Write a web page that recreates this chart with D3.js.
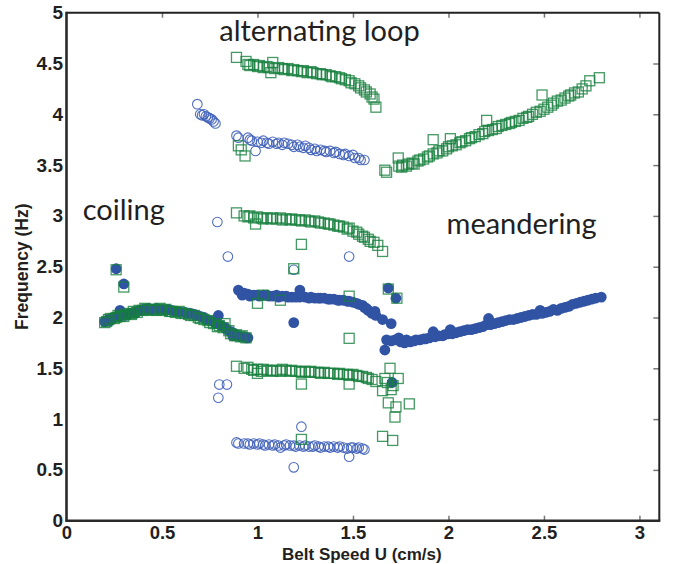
<!DOCTYPE html>
<html><head><meta charset="utf-8">
<script src="https://cdn.jsdelivr.net/npm/d3@7"></script>
<style>html,body{margin:0;padding:0;background:#fff;}svg{display:block;}</style>
</head><body>
<svg id="chart" width="680" height="564"></svg>
<script>
// ---- data ----
const xTicks = [0, 0.5, 1, 1.5, 2, 2.5, 3];
const xTickLabels = ["0", "0.5", "1", "1.5", "2", "2.5", "3"];
const yTicks = [0, 0.5, 1, 1.5, 2, 2.5, 3, 3.5, 4, 4.5, 5];
const yTickLabels = ["0", "0.5", "1", "1.5", "2", "2.5", "3", "3.5", "4", "4.5", "5"];
const xLabel = "Belt Speed U (cm/s)";
const yLabel = "Frequency (Hz)";
const regimeLabels = ["alternating loop", "coiling", "meandering"];
const regimeAnchors = [[0.80, 4.72], [0.085, 2.96], [1.99, 2.82]];

// filled blue circles
const filledCircles = [
[0.20,1.96],[0.21,1.97],[0.22,1.98],[0.23,1.97],[0.24,1.99],[0.25,2.00],[0.27,2.01],[0.28,2.07],[0.29,2.02],[0.31,2.02],[0.32,2.03],[0.33,2.04],[0.35,2.05],[0.36,2.04],[0.37,2.06],[0.39,2.07],[0.40,2.08],[0.42,2.08],[0.43,2.09],[0.45,2.08],[0.47,2.09],[0.48,2.08],[0.50,2.08],[0.52,2.07],[0.53,2.08],[0.55,2.07],[0.57,2.06],[0.58,2.06],[0.60,2.05],[0.62,2.05],[0.63,2.04],[0.65,2.04],[0.67,2.03],[0.68,2.02],[0.70,2.01],[0.72,2.00],[0.73,1.98],[0.75,1.97],[0.77,1.96],[0.78,1.94],[0.795,2.02],[0.81,1.92],[0.83,1.90],[0.84,1.88],[0.86,1.86],[0.87,1.82],[0.88,1.84],[0.90,1.82],[0.91,1.81],[0.93,1.81],[0.94,1.80],[0.95,1.80],
[0.26,2.48],[0.30,2.33],
[0.90,2.27],[0.92,2.22],[0.93,2.24],[0.95,2.23],[0.96,2.21],[0.98,2.22],[1.00,2.22],[1.01,2.21],[1.03,2.22],[1.05,2.22],[1.06,2.21],[1.08,2.21],[1.10,2.22],[1.11,2.20],[1.13,2.21],[1.15,2.21],[1.16,2.20],[1.18,2.20],[1.20,2.20],[1.22,2.20],[1.222,2.27],[1.25,2.20],[1.27,2.19],[1.28,2.20],[1.30,2.19],[1.32,2.19],[1.33,2.19],[1.35,2.19],[1.37,2.18],[1.38,2.18],[1.40,2.18],[1.42,2.17],[1.43,2.17],[1.45,2.17],[1.47,2.16],[1.48,2.16],[1.50,2.15],[1.52,2.14],[1.53,2.13],[1.55,2.12],[1.56,2.10],[1.57,2.09],[1.58,2.07],[1.60,2.04],[1.615,2.06],[1.62,2.02],[1.655,1.98],[1.70,1.94],
[1.19,1.95],[1.685,2.29],[1.725,2.19],[1.705,1.36],
[1.667,1.68],[1.676,1.78],[1.70,1.77],[1.72,1.78],[1.74,1.80],[1.75,1.76],[1.77,1.75],[1.78,1.78],[1.80,1.76],[1.82,1.77],[1.83,1.78],[1.85,1.78],[1.87,1.79],[1.88,1.79],[1.90,1.80],[1.92,1.86],[1.93,1.81],[1.95,1.82],[1.97,1.82],[1.98,1.83],[2.00,1.84],[2.01,1.88],[2.02,1.84],[2.04,1.85],[2.06,1.86],[2.08,1.87],[2.10,1.88],[2.12,1.88],[2.14,1.89],[2.16,1.90],[2.18,1.91],[2.20,1.93],[2.21,1.99],[2.22,1.93],[2.24,1.94],[2.26,1.95],[2.28,1.96],[2.30,1.97],[2.32,1.98],[2.34,1.98],[2.36,1.99],[2.38,2.00],[2.40,2.01],[2.42,2.02],[2.44,2.03],[2.46,2.03],[2.48,2.07],[2.49,2.04],[2.51,2.05],[2.53,2.06],[2.55,2.08],[2.57,2.07],[2.59,2.09],[2.61,2.10],[2.63,2.11],[2.65,2.13],[2.67,2.14],[2.69,2.15],[2.71,2.16],[2.73,2.17],[2.75,2.18],[2.77,2.19],[2.80,2.20]
];

// open blue circles
const openCircles = [
[0.685,4.10],[0.70,4.00],[0.71,3.99],[0.72,4.00],[0.73,3.98],[0.74,3.97],[0.75,3.96],[0.76,3.95],[0.77,3.93],[0.78,3.91],
[0.89,3.79],[0.90,3.77],[0.95,3.77],[0.96,3.75],[0.97,3.74],[0.99,3.64],[1.00,3.73],[1.02,3.72],[1.03,3.74],[1.05,3.72],[1.06,3.71],[1.08,3.73],[1.10,3.71],[1.11,3.72],[1.13,3.70],[1.14,3.72],[1.16,3.71],[1.18,3.70],[1.19,3.68],[1.21,3.70],[1.22,3.68],[1.24,3.67],[1.25,3.69],[1.27,3.67],[1.28,3.65],[1.30,3.66],[1.31,3.64],[1.33,3.65],[1.35,3.64],[1.36,3.63],[1.38,3.64],[1.40,3.62],[1.41,3.63],[1.43,3.61],[1.45,3.60],[1.46,3.61],[1.48,3.59],[1.50,3.60],[1.51,3.57],[1.53,3.57],[1.54,3.55],[1.56,3.55],
[0.89,0.77],[0.90,0.76],[0.93,0.76],[0.95,0.76],[0.96,0.75],[0.98,0.76],[1.00,0.75],[1.01,0.76],[1.03,0.75],[1.04,0.74],[1.06,0.75],[1.08,0.74],[1.09,0.75],[1.11,0.74],[1.12,0.72],[1.14,0.74],[1.15,0.75],[1.17,0.74],[1.19,0.74],[1.20,0.73],[1.22,0.74],[1.24,0.73],[1.25,0.74],[1.27,0.73],[1.29,0.73],[1.30,0.74],[1.32,0.73],[1.33,0.72],[1.35,0.73],[1.37,0.73],[1.38,0.72],[1.40,0.73],[1.42,0.72],[1.43,0.73],[1.45,0.72],[1.47,0.71],[1.49,0.72],[1.50,0.72],[1.52,0.71],[1.53,0.72],[1.55,0.71],[1.56,0.70],
[1.19,0.525],[1.23,0.925],[1.48,0.63],[0.79,2.94],[0.845,2.60],[1.48,2.60],[0.795,1.21],[0.80,1.34],[0.84,1.34],[1.19,2.47]
];

// open green squares
const openSquares = [
[0.20,1.95],[0.21,1.96],[0.22,1.98],[0.23,1.99],[0.25,1.99],[0.26,2.00],[0.27,2.02],[0.28,2.01],[0.30,2.01],[0.31,2.03],[0.33,2.04],[0.34,2.03],[0.35,2.06],[0.37,2.05],[0.38,2.07],[0.40,2.07],[0.41,2.09],[0.43,2.08],[0.44,2.07],[0.46,2.08],[0.47,2.07],[0.49,2.09],[0.50,2.07],[0.52,2.08],[0.54,2.06],[0.55,2.06],[0.57,2.05],[0.59,2.06],[0.60,2.04],[0.62,2.04],[0.64,2.03],[0.65,2.02],[0.67,2.02],[0.69,2.00],[0.70,1.99],[0.72,1.98],[0.74,1.97],[0.75,1.95],[0.77,1.94],[0.79,1.91],[0.80,1.92],[0.82,1.90],[0.83,1.94],[0.85,1.87],[0.86,1.84],[0.88,1.82],[0.89,1.83],[0.91,1.81],[0.92,1.82],[0.94,1.80],
[0.26,2.47],[0.30,2.30],
[0.89,4.56],[0.94,4.52],[0.95,4.49],[0.96,4.48],[0.98,4.49],[1.00,4.47],[1.01,4.48],[1.03,4.46],[1.05,4.47],[1.06,4.46],[1.07,4.41],[1.08,4.51],[1.09,4.45],[1.11,4.46],[1.13,4.45],[1.14,4.44],[1.16,4.45],[1.18,4.43],[1.19,4.44],[1.21,4.43],[1.23,4.42],[1.24,4.43],[1.26,4.41],[1.28,4.42],[1.29,4.41],[1.31,4.40],[1.33,4.40],[1.34,4.39],[1.36,4.39],[1.38,4.38],[1.39,4.37],[1.41,4.37],[1.43,4.36],[1.44,4.35],[1.46,4.34],[1.48,4.33],[1.49,4.31],[1.51,4.30],[1.53,4.28],[1.54,4.26],[1.56,4.24],[1.57,4.22],[1.59,4.20],[1.60,4.17],[1.61,4.15],[1.62,4.07],
[0.90,3.69],[0.915,3.65],[0.935,3.59],
[0.89,3.03],[0.93,3.00],[0.95,2.99],[0.96,3.00],[0.98,2.98],[0.99,2.92],[1.00,2.99],[1.02,2.98],[1.03,2.97],[1.05,2.98],[1.07,2.97],[1.08,2.98],[1.10,2.97],[1.12,2.98],[1.13,2.96],[1.15,2.97],[1.17,2.96],[1.18,2.97],[1.20,2.96],[1.22,2.96],[1.23,2.95],[1.25,2.96],[1.27,2.95],[1.28,2.94],[1.30,2.95],[1.32,2.94],[1.33,2.93],[1.35,2.93],[1.37,2.92],[1.38,2.92],[1.40,2.91],[1.42,2.90],[1.43,2.90],[1.45,2.89],[1.47,2.87],[1.48,2.88],[1.50,2.85],[1.52,2.84],[1.53,2.82],[1.55,2.80],[1.56,2.79],[1.58,2.77],[1.59,2.75],[1.61,2.74],[1.63,2.71],[1.655,2.65],
[1.23,2.72],[1.19,2.48],[1.00,2.14],[1.03,2.22],[1.12,2.17],[1.48,2.21],[1.48,1.795],[1.685,2.28],[1.73,2.19],
[0.89,1.52],[0.93,1.50],[0.95,1.51],[0.97,1.49],[0.98,1.48],[1.00,1.45],[1.00,1.49],[1.02,1.47],[1.03,1.49],[1.05,1.48],[1.07,1.48],[1.08,1.47],[1.10,1.48],[1.12,1.47],[1.13,1.49],[1.15,1.48],[1.17,1.47],[1.18,1.48],[1.20,1.47],[1.22,1.47],[1.23,1.46],[1.25,1.47],[1.27,1.46],[1.28,1.47],[1.30,1.46],[1.32,1.46],[1.33,1.45],[1.35,1.46],[1.37,1.45],[1.38,1.45],[1.40,1.45],[1.42,1.44],[1.43,1.45],[1.45,1.44],[1.47,1.44],[1.48,1.43],[1.50,1.44],[1.52,1.43],[1.53,1.42],[1.55,1.42],[1.57,1.41],[1.58,1.40],[1.60,1.39],[1.62,1.37],
[1.23,1.345],[1.48,1.345],[1.23,0.80],
[1.694,1.50],[1.667,1.40],[1.737,1.40],[1.655,1.28],[1.70,1.29],[1.685,1.16],[1.725,1.12],[1.795,1.15],[1.72,1.02],[1.655,0.83],[1.708,0.79],[1.68,1.36],[1.71,1.33],
[1.667,3.45],[1.676,3.43],[1.737,3.57],[1.74,3.49],[1.755,3.48],[1.76,3.50],[1.78,3.49],[1.79,3.51],[1.81,3.52],[1.82,3.51],[1.84,3.54],[1.85,3.55],[1.87,3.56],[1.89,3.58],[1.90,3.59],[1.92,3.75],[1.92,3.61],[1.94,3.62],[1.95,3.64],[1.97,3.64],[1.99,3.66],[2.01,3.76],[2.00,3.68],[2.02,3.69],[2.04,3.70],[2.06,3.72],[2.07,3.73],[2.09,3.74],[2.11,3.76],[2.12,3.77],[2.14,3.78],[2.16,3.80],[2.18,3.81],[2.20,3.94],[2.19,3.83],[2.21,3.84],[2.23,3.85],[2.25,3.86],[2.26,3.88],[2.28,3.89],[2.30,3.90],[2.32,3.91],[2.33,3.92],[2.35,3.93],[2.37,3.94],[2.39,3.96],[2.41,3.97],[2.42,3.98],[2.44,4.00],[2.46,4.02],[2.48,4.03],[2.49,4.19],[2.50,4.05],[2.52,4.07],[2.54,4.09],[2.55,4.11],[2.57,4.13],[2.59,4.14],[2.61,4.16],[2.63,4.18],[2.64,4.19],[2.66,4.21],[2.68,4.22],[2.70,4.25],[2.72,4.28],[2.74,4.33],[2.79,4.36]
];

// ---- drawing ----
const svg = d3.select("#chart");
const x = d3.scaleLinear().domain([0, 3.104]).range([66.5, 659.3]);
const y = d3.scaleLinear().domain([0, 5]).range([520.7, 12.7]);
const tickFont = "'Liberation Sans', Arial, Helvetica, sans-serif";

// markers
svg.append("g").selectAll("circle").data(openCircles).join("circle")
  .attr("cx", d => x(d[0])).attr("cy", d => y(d[1])).attr("r", 4.8)
  .attr("fill", "none").attr("stroke", "#3e5fb8").attr("stroke-width", 1.1).attr("stroke-opacity", 0.9);
svg.append("g").selectAll("circle").data(filledCircles).join("circle")
  .attr("cx", d => x(d[0])).attr("cy", d => y(d[1])).attr("r", 5.4)
  .attr("fill", "#3153a3");
const sq = 10;
svg.append("g").selectAll("rect").data(openSquares).join("rect")
  .attr("x", d => x(d[0]) - sq / 2).attr("y", d => y(d[1]) - sq / 2)
  .attr("width", sq).attr("height", sq)
  .attr("fill", "none").attr("stroke", "#17803d").attr("stroke-width", 1.3).attr("stroke-opacity", 0.8);

// inner ticks (top, right, bottom-right part)
const tickStyle = g => { g.select(".domain").remove(); g.selectAll(".tick line").attr("stroke", "#777").attr("stroke-width", 1.5); g.selectAll(".tick text").remove(); };
svg.append("g").attr("transform", `translate(0,${y(5)})`)
  .call(d3.axisTop(x).tickValues(xTicks.filter(v => v > 0)).tickSize(-5)).call(tickStyle);
svg.append("g").attr("transform", `translate(${x(3.104)},0)`)
  .call(d3.axisRight(y).tickValues(yTicks.filter(v => v > 0 && v < 5)).tickSize(-6)).call(tickStyle);
svg.append("g").attr("transform", `translate(0,${y(0)})`)
  .call(d3.axisBottom(x).tickValues(xTicks.filter(v => v >= 1.5)).tickSize(-5)).call(tickStyle);

// frame
svg.append("line").attr("x1", x(0)).attr("x2", x(3.104)).attr("y1", y(5)).attr("y2", y(5)).attr("stroke", "#222").attr("stroke-width", 2);
svg.append("line").attr("x1", x(3.104)).attr("x2", x(3.104)).attr("y1", y(5)).attr("y2", y(0)).attr("stroke", "#222").attr("stroke-width", 2);
svg.append("line").attr("x1", x(0)).attr("x2", x(3.104) + 1).attr("y1", y(0)).attr("y2", y(0)).attr("stroke", "#2a2a2a").attr("stroke-width", 2.6);
svg.append("line").attr("x1", x(0)).attr("x2", x(0)).attr("y1", y(5) - 1).attr("y2", y(0) + 1.3).attr("stroke", "#2a2a2a").attr("stroke-width", 2.6);

// tick labels
const xAxis = svg.append("g").attr("transform", `translate(0,${y(0)})`)
  .call(d3.axisBottom(x).tickValues(xTicks).tickFormat((d, i) => xTickLabels[i]).tickSize(0).tickPadding(5));
xAxis.select(".domain").remove();
xAxis.selectAll("text").attr("font-family", tickFont).attr("font-weight", "bold").attr("font-size", 18.5).attr("fill", "#231f20");
const yAxis = svg.append("g").attr("transform", `translate(${x(0)},0)`)
  .call(d3.axisLeft(y).tickValues(yTicks).tickFormat((d, i) => yTickLabels[i]).tickSize(0).tickPadding(3.5));
yAxis.select(".domain").remove();
yAxis.selectAll("text").attr("font-family", tickFont).attr("font-weight", "bold").attr("font-size", 19).attr("fill", "#231f20");

// axis titles
svg.append("text").attr("x", (x(0) + x(3.104)) / 2 - 1).attr("y", 560).attr("text-anchor", "middle")
  .attr("font-family", tickFont).attr("font-weight", "bold").attr("font-size", 17).attr("fill", "#231f20").text(xLabel);
svg.append("text").attr("transform", `translate(28,${(y(0) + y(5)) / 2}) rotate(-90)`).attr("text-anchor", "middle")
  .attr("font-family", tickFont).attr("font-weight", "bold").attr("font-size", 17.5).attr("fill", "#231f20").text(yLabel);

// regime annotations
svg.append("g").selectAll("text").data(regimeLabels).join("text")
  .attr("x", (d, i) => x(regimeAnchors[i][0])).attr("y", (d, i) => y(regimeAnchors[i][1]))
  .attr("font-family", "Lato, 'Open Sans', sans-serif").attr("font-size", 29).attr("fill", "#231f20")
  .text(d => d);
</script>
</body></html>
